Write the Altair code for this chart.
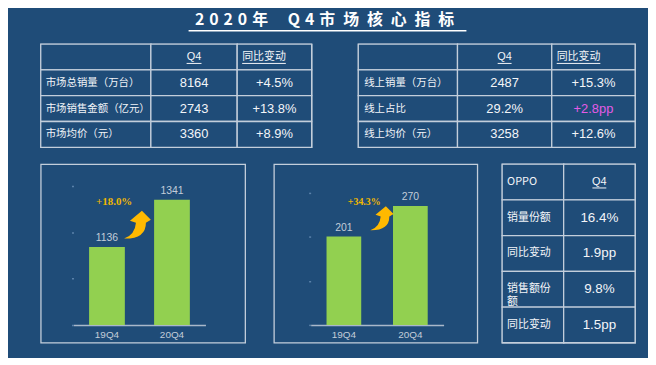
import altair as alt
import pandas as pd

# ---------------- data ----------------
title_text = "2020年 Q4市场核心指标"

t1_labels = ["", "市场总销量（万台）", "市场销售金额（亿元）", "市场均价（元）"]
t1_q4 = ["Q4", "8164", "2743", "3360"]
t1_yoy = ["同比变动", "+4.5%", "+13.8%", "+8.9%"]

t2_labels = ["", "线上销量（万台）", "线上占比", "线上均价（元）"]
t2_q4 = ["Q4", "2487", "29.2%", "3258"]
t2_yoy = ["同比变动", "+15.3%", "+2.8pp", "+12.6%"]

t3_labels = ["OPPO", "销量份额", "同比变动", "销售额份\n额", "同比变动"]
t3_q4 = ["Q4", "16.4%", "1.9pp", "9.8%", "1.5pp"]

quarters = ["19Q4", "20Q4"]
panel1_values = [1136, 1341]
panel1_growth = "+18.0%"
panel1_ticks = [800, 900, 1000, 1100, 1200, 1300, 1400]
panel2_values = [201, 270]
panel2_growth = "+34.3%"
panel2_ticks = [0, 50, 100, 150, 200, 250, 300]

# ---------------- style ----------------
BG = "#1f4c78"
LINE = "#c3cedb"
TXT = "#f3f5f8"
PINK = "#e45be6"
GREEN = "#92d050"
GOLD = "#ffb900"
GOLD_TXT = "#f0b700"
AXIS_TXT = "#c3ccd8"
TICK = "#5b82aa"
CJK = "Noto Sans CJK SC"
LATIN = "Liberation Sans, Noto Sans CJK SC"
SERIF = "Liberation Serif"

ARROW = ("M -0.87 0.9 Q -0.13 0.63 -0.07 -0.17 L -0.47 -0.3 L 0.33 -0.97 "
         "L 0.93 -0.37 L 0.6 -0.17 Q 0.6 0.93 -0.87 0.9 Z")


def table_column(texts, width, row_h, head_align, body_align, pad, head_size,
                 body_size, font, colors=None, underline=None):
    n = len(texts)
    if colors is None:
        colors = [TXT] * n
    sizes = [head_size] + [body_size] * (n - 1)
    df = pd.DataFrame({"row": list(range(n)), "text": texts,
                       "size": sizes, "color": colors})
    yenc = alt.Y("row:O", axis=None,
                 scale=alt.Scale(paddingInner=0, paddingOuter=0))
    base = alt.Chart(df)
    cells = base.mark_rect(fill=BG, stroke=LINE, strokeWidth=1.3).encode(
        y=yenc, x=alt.value(0), x2=alt.value(width))

    def tx(a):
        return pad if a == "left" else width / 2

    common = dict(
        y=yenc,
        text="text:N",
        size=alt.Size("size:Q", scale=None, legend=None),
        color=alt.Color("color:N", scale=None, legend=None),
    )
    head = base.transform_filter("datum.row == 0").mark_text(
        align=head_align, baseline="middle", font=font
    ).encode(x=alt.value(tx(head_align)), **common)
    body = base.transform_filter("datum.row > 0").mark_text(
        align=body_align, baseline="middle", font=font, lineBreak="\n",
        lineHeight=13
    ).encode(x=alt.value(tx(body_align)), **common)
    layers = [cells, head, body]
    if underline is not None:
        x0, x1, dy = underline
        layers.append(
            base.transform_filter("datum.row == 0")
            .mark_rule(color=TXT, strokeWidth=1, yOffset=dy)
            .encode(y=yenc, x=alt.value(x0), x2=alt.value(x1))
        )
    return alt.layer(*layers).properties(width=width, height=n * row_h)


def bar_panel(values, ticks, growth, width, height, xrange, pin, pout, yrange,
              growth_xy, growth_size, arrow_xy, arrow_px):
    df = pd.DataFrame({"quarter": quarters, "value": values})
    x = alt.X(
        "quarter:N", sort=quarters, title=None,
        scale=alt.Scale(range=xrange, paddingInner=pin, paddingOuter=pout),
        axis=alt.Axis(labelAngle=0, ticks=False, domainColor="#a9b8ca",
                      domainWidth=1.5, labelColor=AXIS_TXT, labelFont=LATIN,
                      labelFontSize=10, labelPadding=5,
                      offset=yrange[0] - height),
    )
    y = alt.Y(
        "value:Q", title=None,
        scale=alt.Scale(domain=[ticks[0], ticks[-1]], range=yrange,
                        zero=False, nice=False),
        axis=alt.Axis(values=ticks, labels=False, domain=False, grid=False,
                      ticks=True, tickSize=2, tickWidth=1.5, tickColor=TICK,
                      offset=-xrange[0]),
    )
    base = alt.Chart(df)
    bars = base.mark_bar(color=GREEN).encode(x=x, y=y, y2=alt.datum(ticks[0]))
    labels = base.mark_text(dy=-9, baseline="middle", font=LATIN,
                            fontSize=10.5, color=AXIS_TXT).encode(
        x="quarter:N", y="value:Q", text=alt.Text("value:Q", format="d"))
    one = pd.DataFrame({"g": [growth]})
    gtext = alt.Chart(one).mark_text(
        font=SERIF, fontWeight="bold", fontSize=growth_size, color=GOLD_TXT,
        baseline="middle"
    ).encode(x=alt.value(growth_xy[0]), y=alt.value(growth_xy[1]), text="g:N")
    arrow = alt.Chart(one).mark_point(
        shape=ARROW, filled=True, color=GOLD, opacity=1,
        size=arrow_px ** 2, strokeWidth=0
    ).encode(x=alt.value(arrow_xy[0]), y=alt.value(arrow_xy[1]))
    return alt.layer(bars, labels, gtext, arrow).properties(width=width,
                                                            height=height)


# ---------------- title ----------------
TW = 572


def spaced(s):
    out = ""
    for i, c in enumerate(s):
        if c == " ":
            continue
        out += c
        if i == len(s) - 1:
            break
        if s[i + 1] == " ":
            out += "\u2002\u2002\u2005"
        elif c.isascii():
            out += "\u2005\u200a"
        else:
            out += "\u2002"
    return out


title_df = pd.DataFrame({"t": [spaced(title_text)]})
title_txt = alt.Chart(title_df).mark_text(
    font=CJK, fontSize=16, fontWeight="bold", color="white", baseline="middle"
).encode(x=alt.value(TW / 2), y=alt.value(9.5), text="t:N")
title_ul = alt.Chart(title_df).mark_rule(color="white", strokeWidth=1.5).encode(
    x=alt.value(149), x2=alt.value(429), y=alt.value(20.5))
title_chart = alt.layer(title_txt, title_ul).properties(
    width=TW, height=31, view=alt.ViewBackground(stroke="transparent"))

# ---------------- tables ----------------
t1 = alt.hconcat(
    table_column(t1_labels, 111, 26, "left", "left", 5, 10.5, 10.5, CJK),
    table_column(t1_q4, 87, 26, "center", "center", 0, 11, 13, LATIN,
                 underline=(36, 51, 6.5)),
    table_column(t1_yoy, 75, 26, "left", "center", 5, 11, 13, LATIN,
                 underline=(5, 49, 6.5)),
    spacing=0, bounds="flush")

t2 = alt.hconcat(
    table_column(t2_labels, 100, 26, "left", "left", 6, 10.5, 10.5, CJK),
    table_column(t2_q4, 95, 26, "center", "center", 0, 11, 13, LATIN,
                 underline=(40.5, 54.5, 6.5)),
    table_column(t2_yoy, 84, 26, "left", "center", 5, 11, 13, LATIN,
                 colors=[TXT, TXT, PINK, TXT], underline=(5, 49, 6.5)),
    spacing=0, bounds="flush")

t3 = alt.hconcat(
    table_column(t3_labels, 62, 36, "left", "left", 5, 11, 11, CJK),
    table_column(t3_q4, 72, 36, "center", "center", 0, 11, 13.5, LATIN,
                 underline=(29, 43, 6)),
    spacing=0, bounds="flush")

# ---------------- bar panels ----------------
p1 = bar_panel(panel1_values, panel1_ticks, panel1_growth, 206, 180,
               [33, 166], 0.45, 0.24, [162, 22], (74, 38), 11, (97, 61.5), 30)
p2 = bar_panel(panel2_values, panel2_ticks, panel2_growth, 205, 180,
               [37, 171], 0.478, 0.239, [162, 29], (91, 38), 10, (108.5, 55), 26)

row1 = alt.hconcat(t1, t2, spacing=43)
row2 = alt.hconcat(alt.hconcat(p1, p2, spacing=29, bounds="flush"), t3,
                   spacing=22)
body = alt.vconcat(row1, row2, spacing=13)

chart = alt.vconcat(title_chart, body, spacing=0).properties(
    background=BG,
    padding={"left": 31, "top": 0, "right": 11, "bottom": 12},
).configure_view(stroke=LINE, strokeWidth=1.3)

chart.save("out.html", embed_options={"renderer": "svg", "actions": False})
